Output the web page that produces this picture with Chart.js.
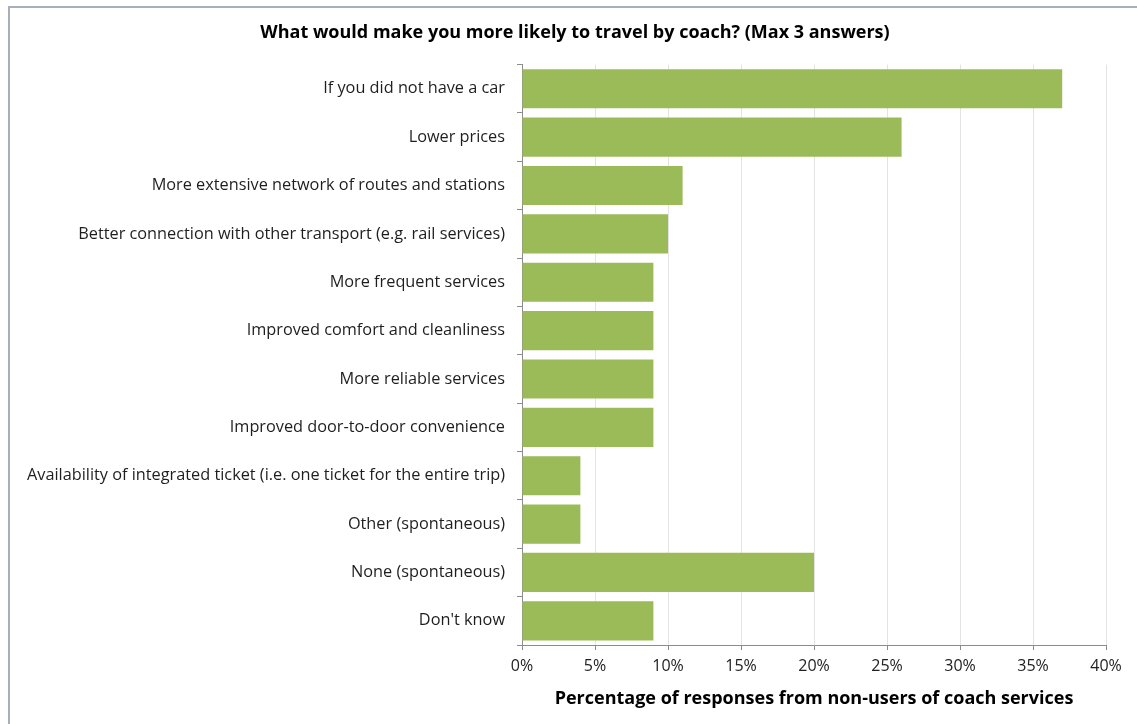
<!doctype html>
<html lang="en">
<head>
    <meta charset="UTF-8" />
    <title>What would make you more likely to travel by coach?</title>
    <style>
        html, body { margin: 0; padding: 0; background: #fff; overflow: hidden; }
        #frame {
            position: absolute; left: 8px; top: 6px; width: 1140px; height: 730px;
            border-left: 2px solid #a7b0b9; border-top: 2px solid #a7b0b9;
        }
        #wrap { position: absolute; left: 0; top: 0; width: 1137px; height: 724px; }
    </style>
</head>
<body>
    <div id="frame"></div>
    <div id="wrap"><canvas id="chart"></canvas></div>

    <script src="https://cdn.jsdelivr.net/npm/chart.js"></script>
    <script>
        const CATEGORIES = [
            'If you did not have a car',
            'Lower prices',
            'More extensive network of routes and stations',
            'Better connection with other transport (e.g. rail services)',
            'More frequent services',
            'Improved comfort and cleanliness',
            'More reliable services',
            'Improved door-to-door convenience',
            'Availability of integrated ticket (i.e. one ticket for the entire trip)',
            'Other (spontaneous)',
            'None (spontaneous)',
            "Don't know",
        ];
        const SHARES = [37, 26, 11, 10, 9, 9, 9, 9, 4, 4, 20, 9];
        const X_MIN = 0;
        const X_MAX = 40;
        const X_STEP = 5;

        const FONT = "'Open Sans', 'Liberation Sans', sans-serif";
        const GREEN = '#9bbb59';

        // The title is centred between the frame edges rather than over the whole canvas.
        const titleShift = {
            id: 'titleShift',
            afterLayout(chart) {
                chart.titleBlock.left = 44;
            },
        };

        new Chart(document.getElementById('chart'), {
            type: 'bar',
            data: {
                labels: CATEGORIES,
                datasets: [
                    {
                        data: SHARES,
                        backgroundColor: GREEN,
                        borderWidth: 0,
                        barPercentage: 0.81,
                        categoryPercentage: 1,
                    },
                ],
            },
            options: {
                indexAxis: 'y',
                responsive: true,
                maintainAspectRatio: false,
                animation: false,
                layout: { padding: { left: 0, right: 31, top: 0, bottom: 0 } },
                plugins: {
                    legend: { display: false },
                    tooltip: { enabled: false },
                    title: {
                        display: true,
                        text: 'What would make you more likely to travel by coach? (Max 3 answers)',
                        color: '#000',
                        font: { family: FONT, size: 18, weight: 'bold' },
                        padding: { top: 22, bottom: 21 },
                    },
                },
                scales: {
                    x: {
                        min: X_MIN,
                        max: X_MAX,
                        ticks: {
                            stepSize: X_STEP,
                            color: '#222',
                            font: { family: FONT, size: 16 },
                            padding: 7,
                            callback: (v) => v + '%',
                        },
                        grid: { color: '#e3e3e3', tickColor: '#8c8c8c', tickLength: 5 },
                        border: { color: '#8c8c8c' },
                        title: {
                            display: true,
                            text: 'Percentage of responses from non-users of coach services',
                            color: '#000',
                            font: { family: FONT, size: 18, weight: 'bold' },
                            padding: { top: 6, bottom: 14 },
                        },
                        afterFit: (s) => { s.height = 79; },
                    },
                    y: {
                        ticks: {
                            color: '#1e1e1e',
                            font: { family: FONT, size: 16.3 },
                            padding: 12,
                        },
                        grid: {
                            drawOnChartArea: false,
                            color: '#8c8c8c',
                            tickLength: 5,
                        },
                        border: { color: '#8c8c8c' },
                        afterFit: (s) => { s.width = 522; },
                    },
                },
            },
            plugins: [titleShift],
        });
    </script>
</body>
</html>
